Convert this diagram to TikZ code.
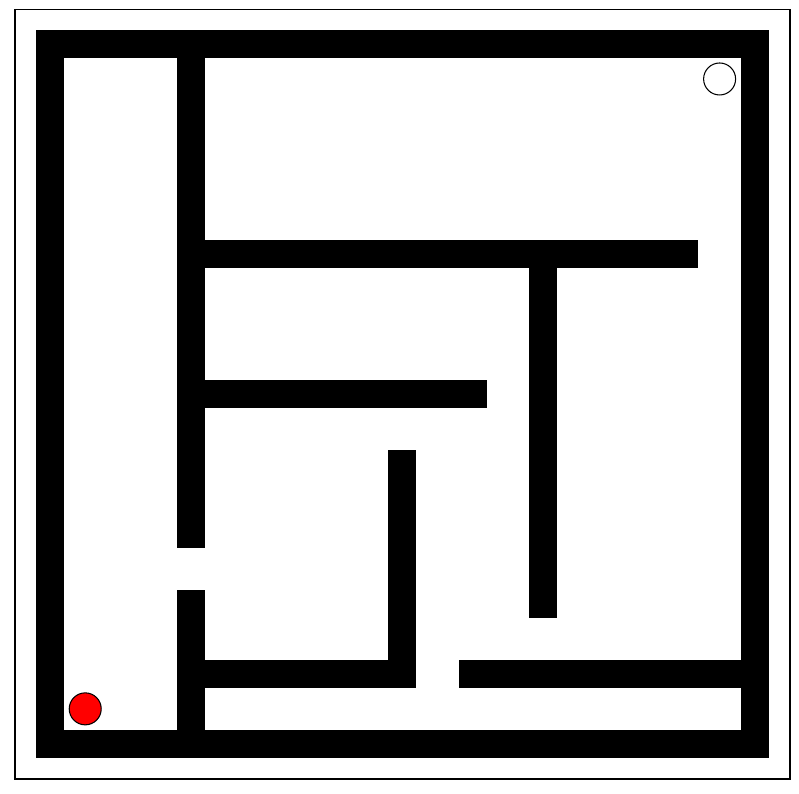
\documentclass[tikz,border=0pt]{standalone}
\usepackage{tikz}
\definecolor{cwall}{HTML}{000000}
\definecolor{cstart}{HTML}{FF0000}
\tikzset{
  wall/.style={draw=cwall,line width=0.56cm,line cap=rect},
  token/.style={circle,draw=black,line width=0.6pt,minimum size=0.64cm,inner sep=0pt}
}
% walls as i/j start -- i/j end on the 10x10 grid
\def\walls{0/0/10/0, 0/10/10/10, 0/0/0/10, 10/0/10/10,
  2/0/2/7, 2/8/2/10, 2/3/9/3, 7/3/7/8, 2/5/6/5,
  5/6/5/9, 2/9/5/9, 6/9/10/9}

\begin{document}
\begin{tikzpicture}[x=0.02cm,y=-0.02cm]
\useasboundingbox (0,0) rectangle (799,794);
\draw[line width=0.7pt] (15,9.5) rectangle (790,779);

% ============ maze ============
\begin{scope}[xshift=1cm,yshift=-0.88cm,x=1.41cm,y=-1.4cm]
  \foreach \xa/\ya/\xb/\yb in \walls {\draw[wall] (\xa,\ya) -- (\xb,\yb);}
  \node[token,fill=white] (goal) at (9.5,0.5) {};
  \node[token,fill=cstart] (start) at (0.5,9.5) {};
\end{scope}

\end{tikzpicture}
\end{document}
